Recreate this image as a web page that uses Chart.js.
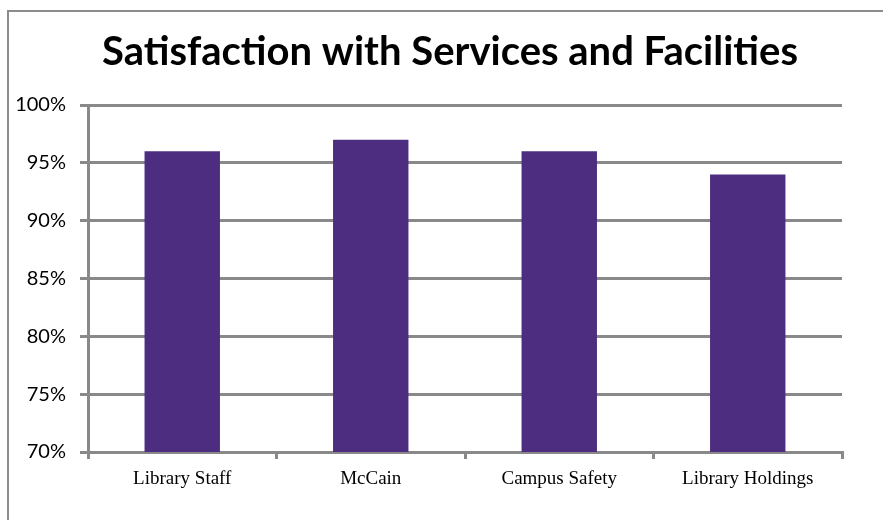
<!DOCTYPE html>
<html>
<head>
<meta charset="utf-8">
<script src="https://cdn.jsdelivr.net/npm/chart.js@4.4.1/dist/chart.umd.min.js"></script>
<style>
  html, body { margin: 0; padding: 0; background: #fff; }
  #wrap { position: relative; width: 883px; height: 520px; }
</style>
</head>
<body>
<div id="wrap"><canvas id="c" width="883" height="520"></canvas></div>
<script>
const chartTitle = "Satisfaction with Services and Facilities";
const categories = ["Library Staff", "McCain", "Campus Safety", "Library Holdings"];
const satisfaction = [96, 97, 96, 94];
const yMin = 70, yMax = 100, yStep = 5;

const gray = '#898989';
const framePlugin = {
  id: 'frame',
  beforeDraw(chart) {
    const ctx = chart.ctx;
    ctx.save();
    ctx.strokeStyle = '#8c8c8c';
    ctx.lineWidth = 2;
    ctx.beginPath();
    ctx.moveTo(8, 520);
    ctx.lineTo(8, 11);
    ctx.lineTo(883, 11);
    ctx.stroke();
    ctx.restore();
  },
  afterDraw(chart) {
    const ctx = chart.ctx;
    ctx.save();
    ctx.fillStyle = '#000';
    ctx.font = 'bold 40px Lato';
    ctx.textAlign = 'center';
    ctx.textBaseline = 'middle';
    ctx.fillText(chartTitle, 450, 52);
    ctx.restore();
  }
};

new Chart(document.getElementById('c'), {
  type: 'bar',
  data: {
    labels: categories,
    datasets: [{
      data: satisfaction,
      backgroundColor: '#4D2D80',
      borderWidth: 0,
      categoryPercentage: 1.0,
      barPercentage: 0.4
    }]
  },
  options: {
    responsive: false,
    animation: false,
    layout: { padding: { left: 0, right: 41, top: 105, bottom: 0 } },
    plugins: {
      legend: { display: false },
      tooltip: { enabled: false },
      title: { display: false }
    },
    scales: {
      x: {
        offset: true,
        grid: { display: true, drawOnChartArea: false, drawTicks: true, tickLength: 7, offset: true, color: gray, lineWidth: 3 },
        border: { display: true, color: gray, width: 3 },
        ticks: { color: '#000', font: { family: 'Liberation Serif', size: 19 }, padding: 9, maxRotation: 0 },
        afterFit(scale) { scale.height = 68; }
      },
      y: {
        min: yMin, max: yMax,
        grid: { color: gray, lineWidth: 3, tickLength: 8, drawTicks: true },
        border: { display: true, color: gray, width: 3 },
        ticks: {
          stepSize: yStep,
          color: '#000',
          font: { family: 'Lato', size: 20 },
          padding: 14,
          callback: v => v + '%'
        },
        afterFit(scale) { scale.width = 88; }
      }
    }
  },
  plugins: [framePlugin]
});
</script>
</body>
</html>
